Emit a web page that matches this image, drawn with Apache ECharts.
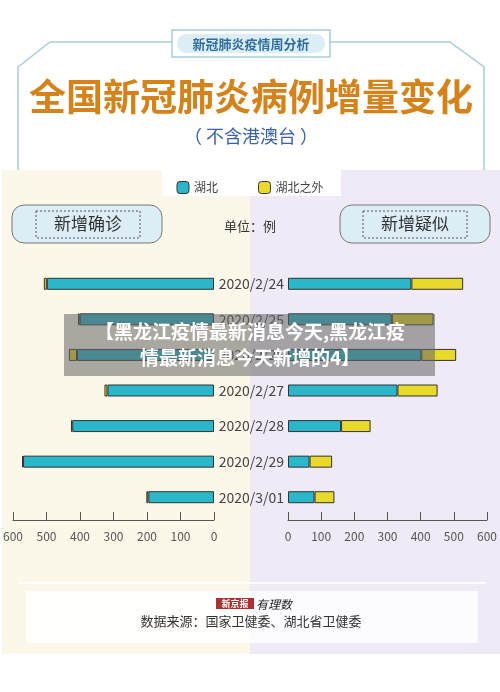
<!DOCTYPE html><html><head><meta charset="utf-8"><script src="https://cdn.jsdelivr.net/npm/echarts@6/dist/echarts.min.js"></script>
<style>body{margin:0}#c{width:500px;height:692px}</style></head><body><div id="c"></div><script>
const dates=['2020/2/24','2020/2/25','2020/2/26','2020/2/27','2020/2/28','2020/2/29','2020/3/01'];
const confHubei=[499,401,409,318,423,570,196];
const confOther=[9,5,24,9,4,3,6];
const suspHubei=[372,313,402,330,160,65,80];
const suspOther=[156,126,105,121,89,68,60];
const ticks=[0,100,200,300,400,500,600];
const F='"Noto Sans CJK SC","Noto Sans",sans-serif';
const ch=echarts.init(document.getElementById('c'));
const bs={borderColor:'#333',borderWidth:1};
const ax=(i,inv)=>({gridIndex:i,type:'value',min:0,max:600,interval:100,inverse:inv,offset:5,
 axisLine:{show:true,lineStyle:{color:'#555'}},axisTick:{show:true,inside:true,length:8,lineStyle:{color:'#555'}},
 splitLine:{show:false},axisLabel:{color:'#555',fontSize:12,fontFamily:F,margin:10}});
const ya=(i,show)=>({gridIndex:i,type:'category',data:dates,inverse:true,axisLine:{show:false},axisTick:{show:false},
 axisLabel:{show:show,color:'#444',fontSize:14,fontFamily:F,margin:4}});
const bar=(name,d,g,c)=>({name,type:'bar',stack:'s'+g,xAxisIndex:g,yAxisIndex:g,data:d,barWidth:12,
 itemStyle:Object.assign({color:c},bs)});
ch.setOption({
 animation:false,
 graphic:[
  {type:'rect',shape:{x:2,y:170,width:248,height:484},style:{fill:'#fcf8e9'},z:-10},
  {type:'rect',shape:{x:250,y:170,width:250,height:484},style:{fill:'#efeaf5'},z:-10},
  {type:'polyline',shape:{points:[[18,170],[18,67],[50,42],[172,42]]},style:{stroke:'#a8cdd8',lineWidth:1.5,fill:null}},
  {type:'polyline',shape:{points:[[330,42],[450,42],[484,67],[484,170]]},style:{stroke:'#a8cdd8',lineWidth:1.5,fill:null}},
  {type:'rect',shape:{x:172,y:30,width:158,height:27},style:{fill:'#fff',stroke:'#a8cdd8',lineWidth:1.5}},
  {type:'rect',shape:{x:177,y:34,width:148,height:19,r:9},style:{fill:'#dcedf5'}},
  {type:'text',x:251,y:44,style:{text:'新冠肺炎疫情周分析',font:'bold 13px '+F,fill:'#2f6f9f',align:'center',verticalAlign:'middle'}},
  {type:'text',x:251,y:97,style:{text:'全国新冠肺炎病例增量变化',font:'bold 37px '+F,fill:'#d4831a',align:'center',verticalAlign:'middle'}},
  {type:'text',x:251,y:136,style:{text:'（ 不含港澳台 ）',font:'18px '+F,fill:'#3a62a8',align:'center',verticalAlign:'middle'}},
  {type:'rect',shape:{x:162,y:170,width:179,height:26},style:{fill:'#fff'},z:-5},
  {type:'rect',shape:{x:12,y:205,width:150,height:38,r:12},style:{fill:'#dcedf5',stroke:'#777',lineWidth:1}},
  {type:'rect',shape:{x:36,y:211,width:104,height:27},style:{fill:null,stroke:'#555',lineWidth:1,lineDash:[2,2]}},
  {type:'text',x:88,y:224,style:{text:'新增确诊',font:'17px '+F,fill:'#333',align:'center',verticalAlign:'middle'}},
  {type:'rect',shape:{x:340,y:205,width:150,height:38,r:12},style:{fill:'#dcedf5',stroke:'#777',lineWidth:1}},
  {type:'rect',shape:{x:363,y:211,width:104,height:27},style:{fill:null,stroke:'#555',lineWidth:1,lineDash:[2,2]}},
  {type:'text',x:415,y:224,style:{text:'新增疑似',font:'17px '+F,fill:'#333',align:'center',verticalAlign:'middle'}},
  {type:'text',x:250,y:226,style:{text:'单位：例',font:'13px '+F,fill:'#333',align:'center',verticalAlign:'middle'}},
  {type:'rect',shape:{x:18,y:582,width:468,height:2},style:{fill:'#fff'}},
  {type:'rect',shape:{x:26,y:591,width:452,height:52},style:{fill:'rgba(255,255,255,0.8)'}},
  {type:'rect',shape:{x:216,y:598,width:38,height:11},style:{fill:'#b03030'}},
  {type:'text',x:235,y:604,style:{text:'新京报',font:'bold 9px '+F,fill:'#fff',align:'center',verticalAlign:'middle'}},
  {type:'text',x:256,y:604,style:{text:'有理数',font:'italic 12px '+F,fill:'#222',align:'left',verticalAlign:'middle'}},
  {type:'text',x:251,y:621,style:{text:'数据来源：国家卫健委、湖北省卫健委',font:'13px '+F,fill:'#333',align:'center',verticalAlign:'middle'}},
  {type:'rect',shape:{x:64,y:314,width:371,height:62},style:{fill:'rgba(100,100,100,0.55)'},z:100},
  {type:'text',x:250,y:332,style:{text:'【黑龙江疫情最新消息今天,黑龙江疫',font:'bold 19px '+F,fill:'#fff',align:'center',verticalAlign:'middle'},z:101},
  {type:'text',x:250,y:358,style:{text:'情最新消息今天新增的4】',font:'bold 19px '+F,fill:'#fff',align:'center',verticalAlign:'middle'},z:101}
 ],
 legend:{top:176,left:'center',itemWidth:12,itemHeight:12,itemGap:40,textStyle:{fontSize:12,fontFamily:F,color:'#444'},
  data:[{name:'湖北',itemStyle:{color:'#2ab7c9',borderColor:'#333',borderWidth:1}},{name:'湖北之外',itemStyle:{color:'#e8d92a',borderColor:'#333',borderWidth:1}}]},
 grid:[{left:13,width:201,top:266,height:249},{left:288,width:202,top:266,height:249}],
 xAxis:[ax(0,true),ax(1,false)],
 yAxis:[ya(0,false),ya(1,true)],
 series:[bar('湖北',confHubei,0,'#2ab7c9'),bar('湖北之外',confOther,0,'#e8d92a'),
  bar('湖北',suspHubei,1,'#2ab7c9'),bar('湖北之外',suspOther,1,'#e8d92a')]
});
</script></body></html>
